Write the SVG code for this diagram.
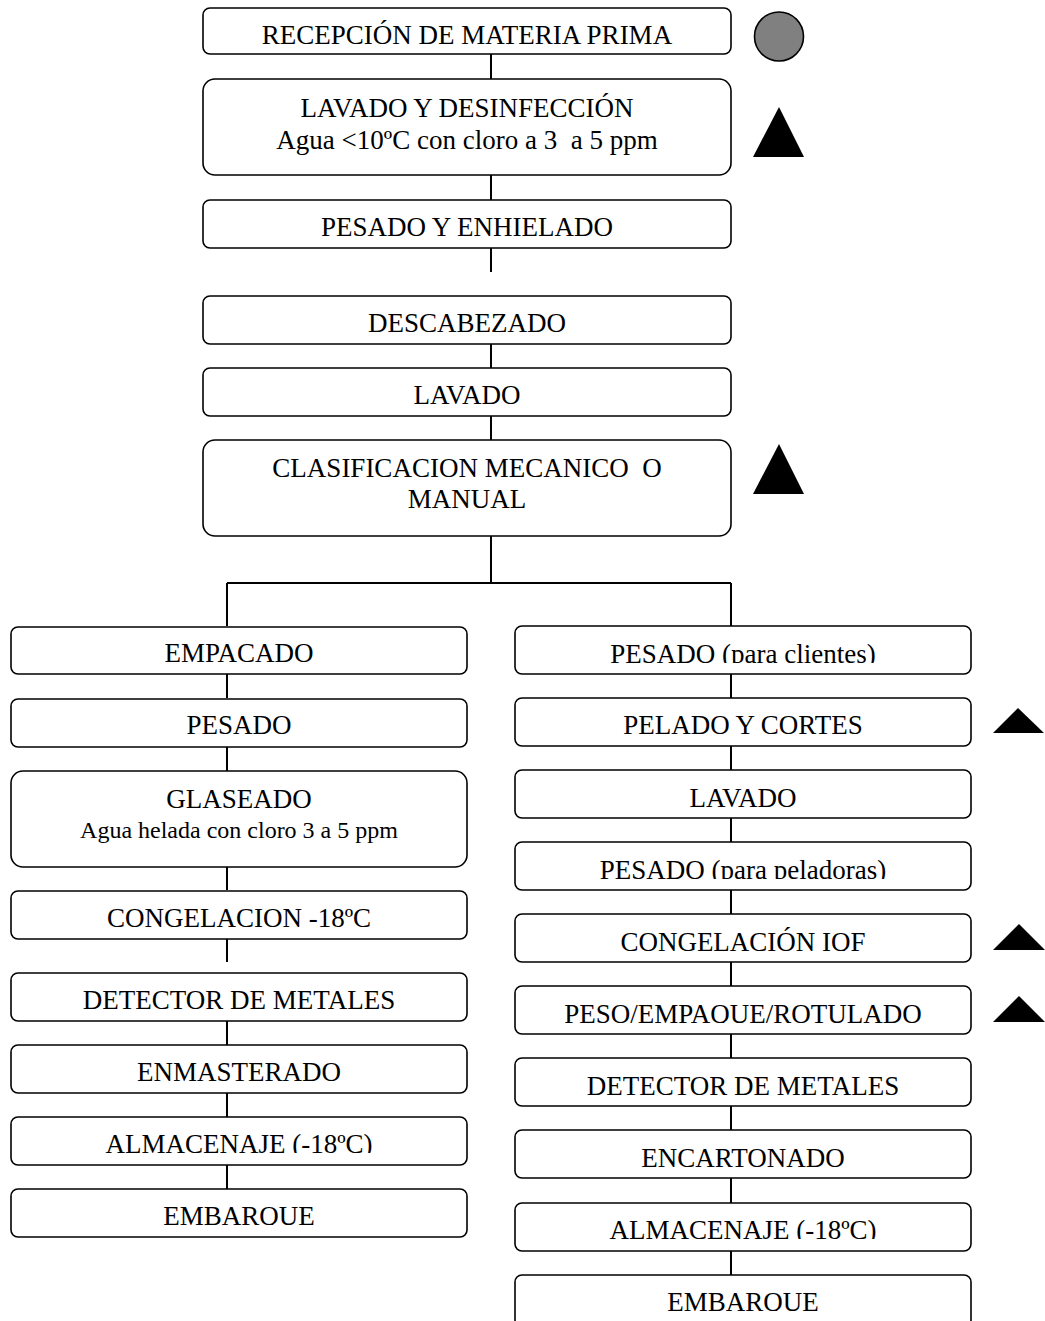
<svg xmlns="http://www.w3.org/2000/svg" width="1045" height="1321" viewBox="0 0 1045 1321">
<style>
.box{fill:#fff;stroke:#000;stroke-width:1.6}
.t{font-family:"Liberation Serif","Times New Roman",serif;font-size:27px;fill:#000;text-anchor:middle;white-space:pre}
.s{font-size:24px}
.c{stroke:#000;stroke-width:2;fill:none}
.tri{fill:#000}
</style>
<defs>
<clipPath id="cl1"><rect x="515" y="626" width="456" height="37"/></clipPath>
<clipPath id="cl2"><rect x="515" y="842" width="456" height="37"/></clipPath>
<clipPath id="cl3"><rect x="515" y="914" width="456" height="37"/></clipPath>
<clipPath id="cl4"><rect x="515" y="986" width="456" height="37"/></clipPath>
<clipPath id="cl5"><rect x="515" y="1203" width="456" height="36"/></clipPath>
<clipPath id="cl6"><rect x="515" y="1275" width="456" height="36"/></clipPath>
<clipPath id="cl7"><rect x="11" y="1117" width="456" height="36"/></clipPath>
<clipPath id="cl8"><rect x="11" y="1189" width="456" height="36"/></clipPath>
</defs>
<g id="connectors">
<path class="c" d="M491 54V79M491 175V200M491 248V272M491 344V368M491 416V440M491 536V583M227 583H731M227 583V626M227 674V698M227 747V771M227 867V890M227 939V962M227 1021V1045M227 1093V1117M227 1165V1189M731 583V626M731 674V698M731 746V770M731 818V842M731 890V914M731 962V986M731 1034V1058M731 1106V1130M731 1178V1203M731 1251V1275"/>
</g>
<g id="n1"><rect class="box" x="203" y="8" width="528" height="46" rx="7"/><text class="t" x="467" y="44">RECEPCIÓN DE MATERIA PRIMA</text></g>
<g id="m1"><circle cx="779" cy="36.5" r="24.5" fill="#808080" stroke="#000" stroke-width="1.6"/></g>
<g id="n2"><rect class="box" x="203" y="79" width="528" height="96" rx="12"/><text class="t" x="467" y="117">LAVADO Y DESINFECCIÓN</text><text class="t" x="467" y="149">Agua &lt;10ºC con cloro a 3  a 5 ppm</text></g>
<g id="m2"><polygon class="tri" points="753,157 804,157 779,107"/></g>
<g id="n3"><rect class="box" x="203" y="200" width="528" height="48" rx="7"/><text class="t" x="467" y="236">PESADO Y ENHIELADO</text></g>
<g id="n4"><rect class="box" x="203" y="296" width="528" height="48" rx="7"/><text class="t" x="467" y="332">DESCABEZADO</text></g>
<g id="n5"><rect class="box" x="203" y="368" width="528" height="48" rx="7"/><text class="t" x="467" y="404">LAVADO</text></g>
<g id="n6"><rect class="box" x="203" y="440" width="528" height="96" rx="12"/><text class="t" x="467" y="477">CLASIFICACION MECANICO  O</text><text class="t" x="467" y="508">MANUAL</text></g>
<g id="m3"><polygon class="tri" points="753,494 804,494 779,444"/></g>
<g id="l1"><rect class="box" x="11" y="627" width="456" height="47" rx="7"/><text class="t" x="239" y="662">EMPACADO</text></g>
<g id="l2"><rect class="box" x="11" y="699" width="456" height="48" rx="7"/><text class="t" x="239" y="734">PESADO</text></g>
<g id="l3"><rect class="box" x="11" y="771" width="456" height="96" rx="12"/><text class="t" x="239" y="808">GLASEADO</text><text class="t s" x="239" y="838">Agua helada con cloro 3 a 5 ppm</text></g>
<g id="l4"><rect class="box" x="11" y="891" width="456" height="48" rx="7"/><text class="t" x="239" y="927">CONGELACION -18ºC</text></g>
<g id="l5"><rect class="box" x="11" y="973" width="456" height="48" rx="7"/><text class="t" x="239" y="1009">DETECTOR DE METALES</text></g>
<g id="l6"><rect class="box" x="11" y="1045" width="456" height="48" rx="7"/><text class="t" x="239" y="1081">ENMASTERADO</text></g>
<g id="l7"><rect class="box" x="11" y="1117" width="456" height="48" rx="7"/><text class="t" x="239" y="1153" clip-path="url(#cl7)">ALMACENAJE (-18ºC)</text></g>
<g id="l8"><rect class="box" x="11" y="1189" width="456" height="48" rx="7"/><text class="t" x="239" y="1225" clip-path="url(#cl8)">EMBARQUE</text></g>
<g id="r1"><rect class="box" x="515" y="626" width="456" height="48" rx="7"/><text class="t" x="743" y="663" clip-path="url(#cl1)">PESADO (para clientes)</text></g>
<g id="r2"><rect class="box" x="515" y="698" width="456" height="48" rx="7"/><text class="t" x="743" y="734">PELADO Y CORTES</text></g>
<g id="m4"><polygon class="tri" points="993,733 1044,733 1018,708"/></g>
<g id="r3"><rect class="box" x="515" y="770" width="456" height="48" rx="7"/><text class="t" x="743" y="807">LAVADO</text></g>
<g id="r4"><rect class="box" x="515" y="842" width="456" height="48" rx="7"/><text class="t" x="743" y="879" clip-path="url(#cl2)">PESADO (para peladoras)</text></g>
<g id="r5"><rect class="box" x="515" y="914" width="456" height="48" rx="7"/><text class="t" x="743" y="951" clip-path="url(#cl3)">CONGELACIÓN IQF</text></g>
<g id="m5"><polygon class="tri" points="993,950 1045,950 1019,924"/></g>
<g id="r6"><rect class="box" x="515" y="986" width="456" height="48" rx="7"/><text class="t" x="743" y="1023" clip-path="url(#cl4)">PESO/EMPAQUE/ROTULADO</text></g>
<g id="m6"><polygon class="tri" points="993,1022 1045,1022 1019,996"/></g>
<g id="r7"><rect class="box" x="515" y="1058" width="456" height="48" rx="7"/><text class="t" x="743" y="1095">DETECTOR DE METALES</text></g>
<g id="r8"><rect class="box" x="515" y="1130" width="456" height="48" rx="7"/><text class="t" x="743" y="1167">ENCARTONADO</text></g>
<g id="r9"><rect class="box" x="515" y="1203" width="456" height="48" rx="7"/><text class="t" x="743" y="1239" clip-path="url(#cl5)">ALMACENAJE (-18ºC)</text></g>
<g id="r10"><rect class="box" x="515" y="1275" width="456" height="52" rx="7"/><text class="t" x="743" y="1311" clip-path="url(#cl6)">EMBARQUE</text></g>
</svg>
